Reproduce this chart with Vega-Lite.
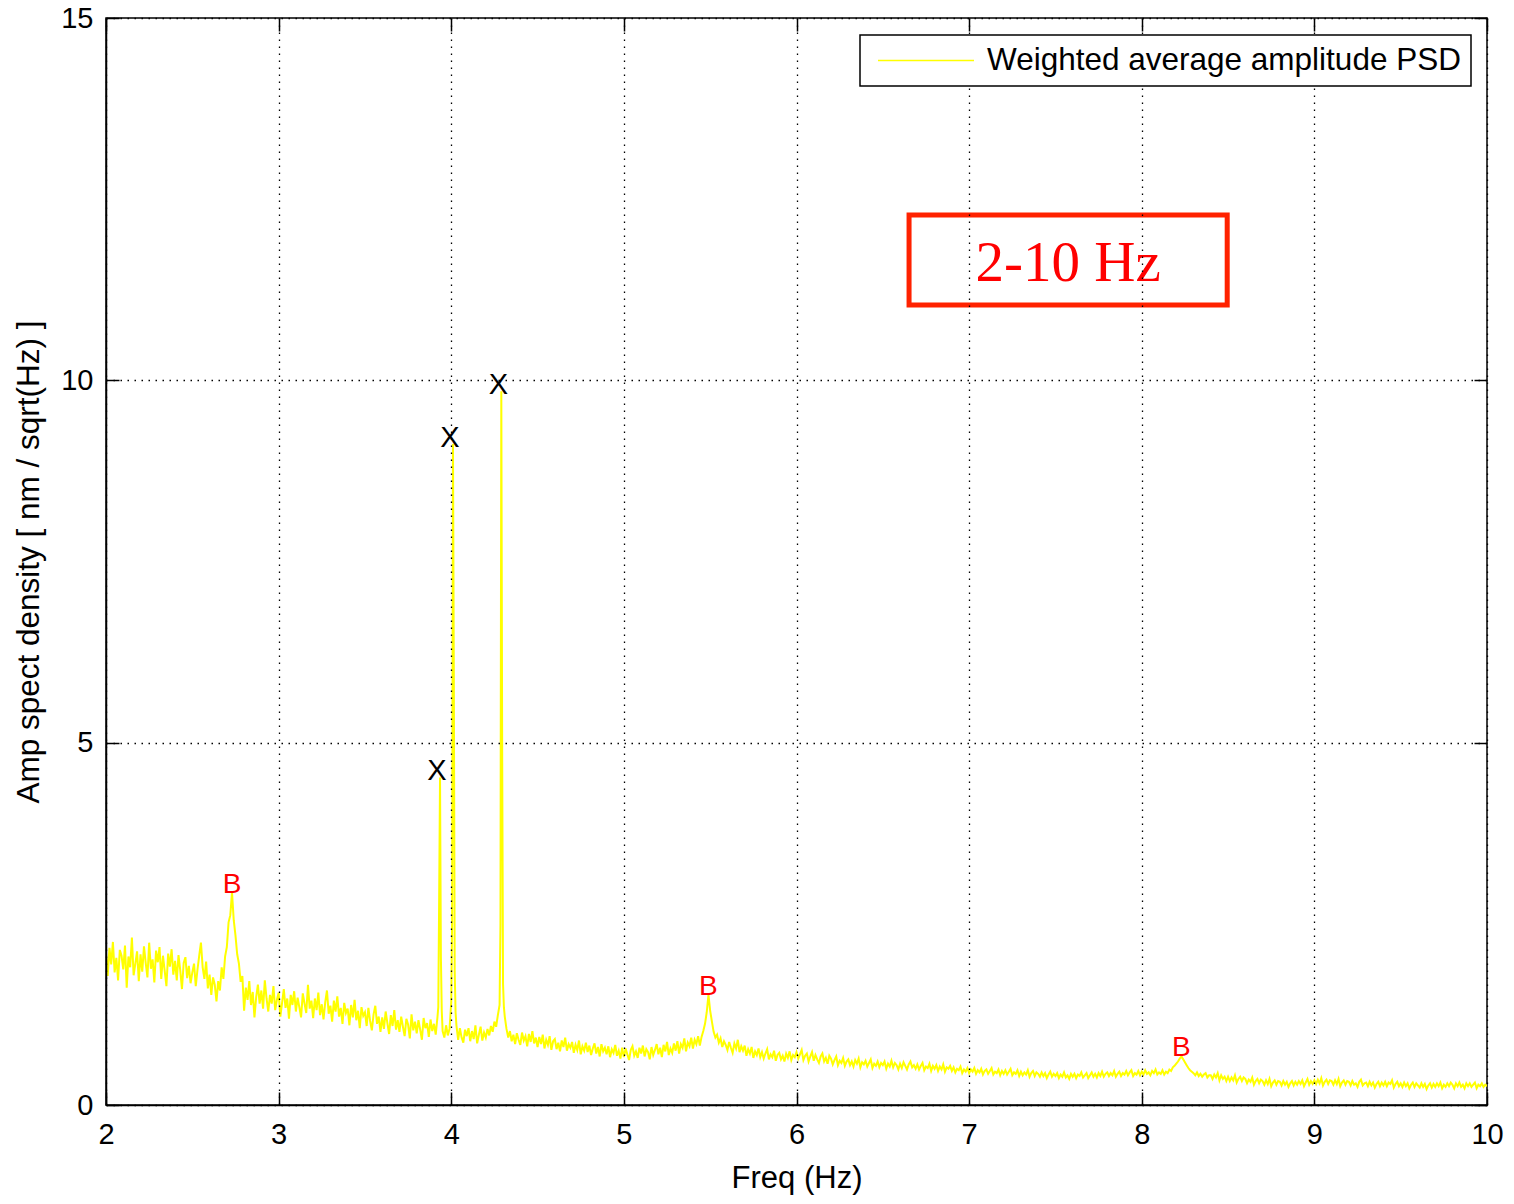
{
  "$schema": "https://vega.github.io/schema/vega-lite/v6.json",
  "width": 1381,
  "height": 1087,
  "autosize": {"type": "none"},
  "padding": {"left": 106, "top": 18, "right": 27, "bottom": 99},
  "background": "white",
  "config": {
    "font": "Liberation Sans",
    "view": {"stroke": "black", "strokeWidth": 1.5}
  },
  "datasets": {
    "psd": [
      {"f":2.00,"a":2.10},{"f":2.01,"a":1.78},{"f":2.02,"a":2.17},{"f":2.03,"a":1.94},{"f":2.04,"a":2.25},{"f":2.05,"a":1.83},{"f":2.06,"a":2.03},{"f":2.07,"a":1.72},{"f":2.08,"a":2.14},{"f":2.09,"a":2.06},
      {"f":2.10,"a":1.87},{"f":2.11,"a":2.20},{"f":2.12,"a":1.62},{"f":2.13,"a":2.05},{"f":2.14,"a":1.90},{"f":2.15,"a":2.31},{"f":2.16,"a":1.79},{"f":2.17,"a":1.95},{"f":2.18,"a":2.12},{"f":2.19,"a":1.71},
      {"f":2.20,"a":2.08},{"f":2.21,"a":1.84},{"f":2.22,"a":2.19},{"f":2.23,"a":1.96},{"f":2.24,"a":1.76},{"f":2.25,"a":2.24},{"f":2.26,"a":1.88},{"f":2.27,"a":2.01},{"f":2.28,"a":1.69},{"f":2.29,"a":2.13},
      {"f":2.30,"a":1.97},{"f":2.31,"a":2.18},{"f":2.32,"a":1.74},{"f":2.33,"a":2.06},{"f":2.34,"a":1.85},{"f":2.35,"a":1.64},{"f":2.36,"a":2.09},{"f":2.37,"a":1.91},{"f":2.38,"a":2.15},{"f":2.39,"a":1.80},
      {"f":2.40,"a":1.99},{"f":2.41,"a":1.72},{"f":2.42,"a":2.07},{"f":2.43,"a":1.86},{"f":2.44,"a":1.60},{"f":2.45,"a":1.96},{"f":2.46,"a":2.04},{"f":2.47,"a":1.75},{"f":2.48,"a":1.92},{"f":2.49,"a":1.68},
      {"f":2.50,"a":1.83},{"f":2.51,"a":1.95},{"f":2.52,"a":1.64},{"f":2.53,"a":1.87},{"f":2.54,"a":2.06},{"f":2.55,"a":2.24},{"f":2.56,"a":1.90},{"f":2.57,"a":1.74},{"f":2.58,"a":1.98},{"f":2.59,"a":1.61},
      {"f":2.60,"a":1.80},{"f":2.61,"a":1.52},{"f":2.62,"a":1.76},{"f":2.63,"a":1.66},{"f":2.64,"a":1.43},{"f":2.65,"a":1.71},{"f":2.66,"a":1.58},{"f":2.67,"a":1.90},{"f":2.68,"a":1.74},{"f":2.69,"a":2.05},
      {"f":2.70,"a":2.18},{"f":2.71,"a":2.52},{"f":2.72,"a":2.62},{"f":2.73,"a":2.93},{"f":2.74,"a":2.55},{"f":2.75,"a":2.34},{"f":2.76,"a":2.08},{"f":2.77,"a":1.95},{"f":2.78,"a":1.70},{"f":2.79,"a":1.78},
      {"f":2.80,"a":1.30},{"f":2.81,"a":1.62},{"f":2.82,"a":1.45},{"f":2.83,"a":1.71},{"f":2.84,"a":1.38},{"f":2.85,"a":1.56},{"f":2.86,"a":1.21},{"f":2.87,"a":1.49},{"f":2.88,"a":1.66},{"f":2.89,"a":1.40},
      {"f":2.90,"a":1.58},{"f":2.91,"a":1.33},{"f":2.92,"a":1.72},{"f":2.93,"a":1.47},{"f":2.94,"a":1.29},{"f":2.95,"a":1.52},{"f":2.96,"a":1.40},{"f":2.97,"a":1.64},{"f":2.98,"a":1.31},{"f":2.99,"a":1.45},
      {"f":3.00,"a":1.55},{"f":3.01,"a":1.22},{"f":3.02,"a":1.41},{"f":3.03,"a":1.60},{"f":3.04,"a":1.34},{"f":3.05,"a":1.47},{"f":3.06,"a":1.19},{"f":3.07,"a":1.52},{"f":3.08,"a":1.38},{"f":3.09,"a":1.57},
      {"f":3.10,"a":1.29},{"f":3.11,"a":1.48},{"f":3.12,"a":1.35},{"f":3.13,"a":1.21},{"f":3.14,"a":1.54},{"f":3.15,"a":1.40},{"f":3.16,"a":1.27},{"f":3.17,"a":1.66},{"f":3.18,"a":1.33},{"f":3.19,"a":1.44},
      {"f":3.20,"a":1.20},{"f":3.21,"a":1.47},{"f":3.22,"a":1.31},{"f":3.23,"a":1.55},{"f":3.24,"a":1.24},{"f":3.25,"a":1.39},{"f":3.26,"a":1.18},{"f":3.27,"a":1.42},{"f":3.28,"a":1.58},{"f":3.29,"a":1.26},
      {"f":3.30,"a":1.37},{"f":3.31,"a":1.15},{"f":3.32,"a":1.44},{"f":3.33,"a":1.29},{"f":3.34,"a":1.50},{"f":3.35,"a":1.22},{"f":3.36,"a":1.34},{"f":3.37,"a":1.12},{"f":3.38,"a":1.41},{"f":3.39,"a":1.27},
      {"f":3.40,"a":1.33},{"f":3.41,"a":1.10},{"f":3.42,"a":1.38},{"f":3.43,"a":1.21},{"f":3.44,"a":1.45},{"f":3.45,"a":1.17},{"f":3.46,"a":1.30},{"f":3.47,"a":1.06},{"f":3.48,"a":1.35},{"f":3.49,"a":1.23},
      {"f":3.50,"a":1.28},{"f":3.51,"a":1.09},{"f":3.52,"a":1.34},{"f":3.53,"a":1.16},{"f":3.54,"a":1.03},{"f":3.55,"a":1.25},{"f":3.56,"a":1.37},{"f":3.57,"a":1.12},{"f":3.58,"a":1.22},{"f":3.59,"a":1.01},
      {"f":3.60,"a":1.21},{"f":3.61,"a":1.05},{"f":3.62,"a":1.29},{"f":3.63,"a":1.13},{"f":3.64,"a":0.98},{"f":3.65,"a":1.24},{"f":3.66,"a":1.09},{"f":3.67,"a":1.31},{"f":3.68,"a":1.04},{"f":3.69,"a":1.17},
      {"f":3.70,"a":1.01},{"f":3.71,"a":1.22},{"f":3.72,"a":1.08},{"f":3.73,"a":0.95},{"f":3.74,"a":1.19},{"f":3.75,"a":1.11},{"f":3.76,"a":0.92},{"f":3.77,"a":1.25},{"f":3.78,"a":1.03},{"f":3.79,"a":1.15},
      {"f":3.80,"a":0.99},{"f":3.81,"a":1.17},{"f":3.82,"a":1.04},{"f":3.83,"a":0.90},{"f":3.84,"a":1.20},{"f":3.85,"a":1.06},{"f":3.86,"a":1.13},{"f":3.87,"a":0.94},{"f":3.88,"a":1.18},{"f":3.89,"a":1.02},
      {"f":3.90,"a":1.12},{"f":3.91,"a":0.97},{"f":3.92,"a":1.21},{"f":3.925,"a":1.35},{"f":3.93,"a":2.87},{"f":3.935,"a":4.52},{"f":3.94,"a":2.04},{"f":3.945,"a":1.30},{"f":3.95,"a":1.02},{"f":3.96,"a":0.93},
      {"f":3.97,"a":1.10},{"f":3.98,"a":0.96},{"f":3.99,"a":1.05},{"f":4.00,"a":1.42},{"f":4.005,"a":2.55},{"f":4.01,"a":9.12},{"f":4.015,"a":5.85},{"f":4.02,"a":1.85},{"f":4.025,"a":1.28},{"f":4.03,"a":1.10},
      {"f":4.04,"a":0.90},{"f":4.05,"a":1.06},{"f":4.06,"a":0.93},{"f":4.07,"a":0.86},{"f":4.08,"a":1.04},{"f":4.09,"a":0.95},
      {"f":4.10,"a":1.06},{"f":4.11,"a":0.88},{"f":4.12,"a":1.02},{"f":4.13,"a":0.91},{"f":4.14,"a":1.10},{"f":4.15,"a":0.85},{"f":4.16,"a":0.97},{"f":4.17,"a":1.08},{"f":4.18,"a":0.89},{"f":4.19,"a":1.00},
      {"f":4.20,"a":0.93},{"f":4.21,"a":1.05},{"f":4.22,"a":0.96},{"f":4.23,"a":1.09},{"f":4.24,"a":1.01},{"f":4.25,"a":1.15},{"f":4.26,"a":1.08},{"f":4.27,"a":1.24},{"f":4.28,"a":1.38},{"f":4.285,"a":2.48},
      {"f":4.29,"a":9.85},{"f":4.295,"a":4.87},{"f":4.30,"a":1.67},{"f":4.305,"a":1.35},{"f":4.31,"a":1.22},{"f":4.32,"a":1.05},{"f":4.33,"a":0.93},{"f":4.34,"a":1.02},{"f":4.35,"a":0.88},{"f":4.36,"a":0.97},
      {"f":4.37,"a":0.84},{"f":4.38,"a":0.99},{"f":4.39,"a":0.90},
      {"f":4.40,"a":0.83},{"f":4.41,"a":1.00},{"f":4.42,"a":0.89},{"f":4.43,"a":0.95},{"f":4.44,"a":0.81},{"f":4.45,"a":0.98},{"f":4.46,"a":0.87},{"f":4.47,"a":1.02},{"f":4.48,"a":0.85},{"f":4.49,"a":0.93},
      {"f":4.50,"a":0.80},{"f":4.51,"a":0.94},{"f":4.52,"a":0.84},{"f":4.53,"a":0.97},{"f":4.54,"a":0.78},{"f":4.55,"a":0.90},{"f":4.56,"a":0.83},{"f":4.57,"a":0.95},{"f":4.58,"a":0.76},{"f":4.59,"a":0.88},
      {"f":4.60,"a":0.91},{"f":4.61,"a":0.77},{"f":4.62,"a":0.86},{"f":4.63,"a":0.74},{"f":4.64,"a":0.89},{"f":4.65,"a":0.80},{"f":4.66,"a":0.93},{"f":4.67,"a":0.75},{"f":4.68,"a":0.84},{"f":4.69,"a":0.79},
      {"f":4.70,"a":0.87},{"f":4.71,"a":0.72},{"f":4.72,"a":0.83},{"f":4.73,"a":0.76},{"f":4.74,"a":0.89},{"f":4.75,"a":0.70},{"f":4.76,"a":0.81},{"f":4.77,"a":0.75},{"f":4.78,"a":0.86},{"f":4.79,"a":0.73},
      {"f":4.80,"a":0.82},{"f":4.81,"a":0.69},{"f":4.82,"a":0.78},{"f":4.83,"a":0.85},{"f":4.84,"a":0.71},{"f":4.85,"a":0.80},{"f":4.86,"a":0.67},{"f":4.87,"a":0.84},{"f":4.88,"a":0.74},{"f":4.89,"a":0.79},
      {"f":4.90,"a":0.70},{"f":4.91,"a":0.81},{"f":4.92,"a":0.66},{"f":4.93,"a":0.77},{"f":4.94,"a":0.72},{"f":4.95,"a":0.83},{"f":4.96,"a":0.68},{"f":4.97,"a":0.75},{"f":4.98,"a":0.64},{"f":4.99,"a":0.79},
      {"f":5.00,"a":0.66},{"f":5.01,"a":0.78},{"f":5.02,"a":0.70},{"f":5.03,"a":0.62},{"f":5.04,"a":0.76},{"f":5.05,"a":0.81},{"f":5.06,"a":0.68},{"f":5.07,"a":0.74},{"f":5.08,"a":0.65},{"f":5.09,"a":0.79},
      {"f":5.10,"a":0.71},{"f":5.11,"a":0.82},{"f":5.12,"a":0.67},{"f":5.13,"a":0.77},{"f":5.14,"a":0.73},{"f":5.15,"a":0.63},{"f":5.16,"a":0.80},{"f":5.17,"a":0.69},{"f":5.18,"a":0.76},{"f":5.19,"a":0.84},
      {"f":5.20,"a":0.70},{"f":5.21,"a":0.79},{"f":5.22,"a":0.66},{"f":5.23,"a":0.83},{"f":5.24,"a":0.74},{"f":5.25,"a":0.87},{"f":5.26,"a":0.69},{"f":5.27,"a":0.78},{"f":5.28,"a":0.72},{"f":5.29,"a":0.85},
      {"f":5.30,"a":0.75},{"f":5.31,"a":0.88},{"f":5.32,"a":0.71},{"f":5.33,"a":0.84},{"f":5.34,"a":0.79},{"f":5.35,"a":0.92},{"f":5.36,"a":0.74},{"f":5.37,"a":0.86},{"f":5.38,"a":0.81},{"f":5.39,"a":0.93},
      {"f":5.40,"a":0.78},{"f":5.41,"a":0.90},{"f":5.42,"a":0.84},{"f":5.43,"a":0.95},{"f":5.44,"a":0.82},{"f":5.45,"a":0.94},{"f":5.46,"a":1.02},{"f":5.47,"a":1.12},{"f":5.48,"a":1.28},{"f":5.49,"a":1.52},
      {"f":5.50,"a":1.30},{"f":5.51,"a":1.15},{"f":5.52,"a":1.01},{"f":5.53,"a":0.93},{"f":5.54,"a":0.97},{"f":5.55,"a":0.86},{"f":5.56,"a":0.92},{"f":5.57,"a":0.80},{"f":5.58,"a":0.88},{"f":5.59,"a":0.83},
      {"f":5.60,"a":0.76},{"f":5.61,"a":0.87},{"f":5.62,"a":0.79},{"f":5.63,"a":0.72},{"f":5.64,"a":0.85},{"f":5.65,"a":0.78},{"f":5.66,"a":0.90},{"f":5.67,"a":0.73},{"f":5.68,"a":0.81},{"f":5.69,"a":0.75},
      {"f":5.70,"a":0.82},{"f":5.71,"a":0.68},{"f":5.72,"a":0.77},{"f":5.73,"a":0.71},{"f":5.74,"a":0.80},{"f":5.75,"a":0.65},{"f":5.76,"a":0.74},{"f":5.77,"a":0.69},{"f":5.78,"a":0.78},{"f":5.79,"a":0.66},
      {"f":5.80,"a":0.73},{"f":5.81,"a":0.64},{"f":5.82,"a":0.71},{"f":5.83,"a":0.77},{"f":5.84,"a":0.63},{"f":5.85,"a":0.70},{"f":5.86,"a":0.66},{"f":5.87,"a":0.75},{"f":5.88,"a":0.61},{"f":5.89,"a":0.69},
      {"f":5.90,"a":0.72},{"f":5.91,"a":0.63},{"f":5.92,"a":0.68},{"f":5.93,"a":0.60},{"f":5.94,"a":0.71},{"f":5.95,"a":0.65},{"f":5.96,"a":0.74},{"f":5.97,"a":0.62},{"f":5.98,"a":0.69},{"f":5.99,"a":0.66},
      {"f":6.00,"a":0.73},{"f":6.01,"a":0.64},{"f":6.02,"a":0.70},{"f":6.03,"a":0.76},{"f":6.04,"a":0.62},{"f":6.05,"a":0.68},{"f":6.06,"a":0.71},{"f":6.07,"a":0.60},{"f":6.08,"a":0.67},{"f":6.09,"a":0.73},
      {"f":6.10,"a":0.61},{"f":6.11,"a":0.69},{"f":6.12,"a":0.63},{"f":6.13,"a":0.58},{"f":6.14,"a":0.67},{"f":6.15,"a":0.71},{"f":6.16,"a":0.60},{"f":6.17,"a":0.65},{"f":6.18,"a":0.57},{"f":6.19,"a":0.68},
      {"f":6.20,"a":0.64},{"f":6.21,"a":0.56},{"f":6.22,"a":0.62},{"f":6.23,"a":0.67},{"f":6.24,"a":0.55},{"f":6.25,"a":0.61},{"f":6.26,"a":0.58},{"f":6.27,"a":0.65},{"f":6.28,"a":0.54},{"f":6.29,"a":0.60},
      {"f":6.30,"a":0.63},{"f":6.31,"a":0.55},{"f":6.32,"a":0.60},{"f":6.33,"a":0.53},{"f":6.34,"a":0.62},{"f":6.35,"a":0.57},{"f":6.36,"a":0.64},{"f":6.37,"a":0.52},{"f":6.38,"a":0.59},{"f":6.39,"a":0.56},
      {"f":6.40,"a":0.61},{"f":6.41,"a":0.53},{"f":6.42,"a":0.58},{"f":6.43,"a":0.63},{"f":6.44,"a":0.51},{"f":6.45,"a":0.57},{"f":6.46,"a":0.54},{"f":6.47,"a":0.60},{"f":6.48,"a":0.52},{"f":6.49,"a":0.58},
      {"f":6.50,"a":0.55},{"f":6.51,"a":0.60},{"f":6.52,"a":0.50},{"f":6.53,"a":0.57},{"f":6.54,"a":0.53},{"f":6.55,"a":0.61},{"f":6.56,"a":0.52},{"f":6.57,"a":0.58},{"f":6.58,"a":0.55},{"f":6.59,"a":0.49},
      {"f":6.60,"a":0.57},{"f":6.61,"a":0.51},{"f":6.62,"a":0.59},{"f":6.63,"a":0.54},{"f":6.64,"a":0.49},{"f":6.65,"a":0.56},{"f":6.66,"a":0.60},{"f":6.67,"a":0.52},{"f":6.68,"a":0.55},{"f":6.69,"a":0.50},
      {"f":6.70,"a":0.56},{"f":6.71,"a":0.49},{"f":6.72,"a":0.54},{"f":6.73,"a":0.58},{"f":6.74,"a":0.48},{"f":6.75,"a":0.53},{"f":6.76,"a":0.51},{"f":6.77,"a":0.57},{"f":6.78,"a":0.47},{"f":6.79,"a":0.54},
      {"f":6.80,"a":0.50},{"f":6.81,"a":0.55},{"f":6.82,"a":0.47},{"f":6.83,"a":0.53},{"f":6.84,"a":0.49},{"f":6.85,"a":0.56},{"f":6.86,"a":0.46},{"f":6.87,"a":0.52},{"f":6.88,"a":0.50},{"f":6.89,"a":0.54},
      {"f":6.90,"a":0.47},{"f":6.91,"a":0.52},{"f":6.92,"a":0.45},{"f":6.93,"a":0.50},{"f":6.94,"a":0.48},{"f":6.95,"a":0.53},{"f":6.96,"a":0.44},{"f":6.97,"a":0.49},{"f":6.98,"a":0.46},{"f":6.99,"a":0.51},
      {"f":7.00,"a":0.44},{"f":7.01,"a":0.49},{"f":7.02,"a":0.46},{"f":7.03,"a":0.51},{"f":7.04,"a":0.43},{"f":7.05,"a":0.48},{"f":7.06,"a":0.45},{"f":7.07,"a":0.50},{"f":7.08,"a":0.42},{"f":7.09,"a":0.47},
      {"f":7.10,"a":0.49},{"f":7.11,"a":0.43},{"f":7.12,"a":0.47},{"f":7.13,"a":0.51},{"f":7.14,"a":0.42},{"f":7.15,"a":0.46},{"f":7.16,"a":0.44},{"f":7.17,"a":0.49},{"f":7.18,"a":0.41},{"f":7.19,"a":0.47},
      {"f":7.20,"a":0.43},{"f":7.21,"a":0.48},{"f":7.22,"a":0.42},{"f":7.23,"a":0.46},{"f":7.24,"a":0.50},{"f":7.25,"a":0.41},{"f":7.26,"a":0.45},{"f":7.27,"a":0.43},{"f":7.28,"a":0.48},{"f":7.29,"a":0.40},
      {"f":7.30,"a":0.46},{"f":7.31,"a":0.41},{"f":7.32,"a":0.45},{"f":7.33,"a":0.42},{"f":7.34,"a":0.48},{"f":7.35,"a":0.39},{"f":7.36,"a":0.44},{"f":7.37,"a":0.47},{"f":7.38,"a":0.40},{"f":7.39,"a":0.45},
      {"f":7.40,"a":0.43},{"f":7.41,"a":0.39},{"f":7.42,"a":0.45},{"f":7.43,"a":0.40},{"f":7.44,"a":0.44},{"f":7.45,"a":0.37},{"f":7.46,"a":0.42},{"f":7.47,"a":0.46},{"f":7.48,"a":0.39},{"f":7.49,"a":0.43},
      {"f":7.50,"a":0.40},{"f":7.51,"a":0.44},{"f":7.52,"a":0.37},{"f":7.53,"a":0.42},{"f":7.54,"a":0.39},{"f":7.55,"a":0.45},{"f":7.56,"a":0.38},{"f":7.57,"a":0.41},{"f":7.58,"a":0.36},{"f":7.59,"a":0.43},
      {"f":7.60,"a":0.39},{"f":7.61,"a":0.43},{"f":7.62,"a":0.37},{"f":7.63,"a":0.42},{"f":7.64,"a":0.40},{"f":7.65,"a":0.45},{"f":7.66,"a":0.38},{"f":7.67,"a":0.41},{"f":7.68,"a":0.44},{"f":7.69,"a":0.37},
      {"f":7.70,"a":0.41},{"f":7.71,"a":0.45},{"f":7.72,"a":0.39},{"f":7.73,"a":0.43},{"f":7.74,"a":0.38},{"f":7.75,"a":0.44},{"f":7.76,"a":0.40},{"f":7.77,"a":0.46},{"f":7.78,"a":0.39},{"f":7.79,"a":0.43},
      {"f":7.80,"a":0.45},{"f":7.81,"a":0.40},{"f":7.82,"a":0.44},{"f":7.83,"a":0.41},{"f":7.84,"a":0.47},{"f":7.85,"a":0.39},{"f":7.86,"a":0.43},{"f":7.87,"a":0.46},{"f":7.88,"a":0.40},{"f":7.89,"a":0.44},
      {"f":7.90,"a":0.42},{"f":7.91,"a":0.47},{"f":7.92,"a":0.41},{"f":7.93,"a":0.45},{"f":7.94,"a":0.48},{"f":7.95,"a":0.40},{"f":7.96,"a":0.44},{"f":7.97,"a":0.42},{"f":7.98,"a":0.47},{"f":7.99,"a":0.41},
      {"f":8.00,"a":0.46},{"f":8.01,"a":0.42},{"f":8.02,"a":0.48},{"f":8.03,"a":0.43},{"f":8.04,"a":0.45},{"f":8.05,"a":0.41},{"f":8.06,"a":0.47},{"f":8.07,"a":0.44},{"f":8.08,"a":0.49},{"f":8.09,"a":0.42},
      {"f":8.10,"a":0.45},{"f":8.11,"a":0.43},{"f":8.12,"a":0.48},{"f":8.13,"a":0.42},{"f":8.14,"a":0.46},{"f":8.15,"a":0.44},{"f":8.16,"a":0.49},{"f":8.17,"a":0.47},{"f":8.18,"a":0.52},{"f":8.19,"a":0.54},
      {"f":8.20,"a":0.57},{"f":8.21,"a":0.60},{"f":8.22,"a":0.64},{"f":8.23,"a":0.67},{"f":8.24,"a":0.63},{"f":8.25,"a":0.59},{"f":8.26,"a":0.55},{"f":8.27,"a":0.51},{"f":8.28,"a":0.48},{"f":8.29,"a":0.46},
      {"f":8.30,"a":0.44},{"f":8.31,"a":0.41},{"f":8.32,"a":0.45},{"f":8.33,"a":0.40},{"f":8.34,"a":0.43},{"f":8.35,"a":0.39},{"f":8.36,"a":0.42},{"f":8.37,"a":0.44},{"f":8.38,"a":0.38},{"f":8.39,"a":0.41},
      {"f":8.40,"a":0.41},{"f":8.41,"a":0.36},{"f":8.42,"a":0.42},{"f":8.43,"a":0.38},{"f":8.44,"a":0.44},{"f":8.45,"a":0.34},{"f":8.46,"a":0.41},{"f":8.47,"a":0.36},{"f":8.48,"a":0.39},{"f":8.49,"a":0.33},
      {"f":8.50,"a":0.39},{"f":8.51,"a":0.33},{"f":8.52,"a":0.38},{"f":8.53,"a":0.34},{"f":8.54,"a":0.41},{"f":8.55,"a":0.31},{"f":8.56,"a":0.36},{"f":8.57,"a":0.39},{"f":8.58,"a":0.33},{"f":8.59,"a":0.38},
      {"f":8.60,"a":0.36},{"f":8.61,"a":0.30},{"f":8.62,"a":0.35},{"f":8.63,"a":0.32},{"f":8.64,"a":0.38},{"f":8.65,"a":0.28},{"f":8.66,"a":0.33},{"f":8.67,"a":0.36},{"f":8.68,"a":0.30},{"f":8.69,"a":0.35},
      {"f":8.70,"a":0.33},{"f":8.71,"a":0.28},{"f":8.72,"a":0.34},{"f":8.73,"a":0.29},{"f":8.74,"a":0.36},{"f":8.75,"a":0.26},{"f":8.76,"a":0.31},{"f":8.77,"a":0.34},{"f":8.78,"a":0.28},{"f":8.79,"a":0.33},
      {"f":8.80,"a":0.32},{"f":8.81,"a":0.27},{"f":8.82,"a":0.33},{"f":8.83,"a":0.28},{"f":8.84,"a":0.32},{"f":8.85,"a":0.25},{"f":8.86,"a":0.30},{"f":8.87,"a":0.33},{"f":8.88,"a":0.27},{"f":8.89,"a":0.32},
      {"f":8.90,"a":0.28},{"f":8.91,"a":0.33},{"f":8.92,"a":0.29},{"f":8.93,"a":0.34},{"f":8.94,"a":0.26},{"f":8.95,"a":0.31},{"f":8.96,"a":0.36},{"f":8.97,"a":0.28},{"f":8.98,"a":0.33},{"f":8.99,"a":0.29},
      {"f":9.00,"a":0.34},{"f":9.01,"a":0.29},{"f":9.02,"a":0.35},{"f":9.03,"a":0.30},{"f":9.04,"a":0.37},{"f":9.05,"a":0.27},{"f":9.06,"a":0.32},{"f":9.07,"a":0.35},{"f":9.08,"a":0.29},{"f":9.09,"a":0.34},
      {"f":9.10,"a":0.33},{"f":9.11,"a":0.28},{"f":9.12,"a":0.34},{"f":9.13,"a":0.29},{"f":9.14,"a":0.36},{"f":9.15,"a":0.26},{"f":9.16,"a":0.31},{"f":9.17,"a":0.34},{"f":9.18,"a":0.28},{"f":9.19,"a":0.33},
      {"f":9.20,"a":0.32},{"f":9.21,"a":0.27},{"f":9.22,"a":0.33},{"f":9.23,"a":0.28},{"f":9.24,"a":0.30},{"f":9.25,"a":0.25},{"f":9.26,"a":0.32},{"f":9.27,"a":0.35},{"f":9.28,"a":0.27},{"f":9.29,"a":0.30},
      {"f":9.30,"a":0.31},{"f":9.31,"a":0.26},{"f":9.32,"a":0.32},{"f":9.33,"a":0.27},{"f":9.34,"a":0.31},{"f":9.35,"a":0.24},{"f":9.36,"a":0.29},{"f":9.37,"a":0.32},{"f":9.38,"a":0.26},{"f":9.39,"a":0.31},
      {"f":9.40,"a":0.27},{"f":9.41,"a":0.32},{"f":9.42,"a":0.26},{"f":9.43,"a":0.31},{"f":9.44,"a":0.29},{"f":9.45,"a":0.34},{"f":9.46,"a":0.24},{"f":9.47,"a":0.29},{"f":9.48,"a":0.32},{"f":9.49,"a":0.26},
      {"f":9.50,"a":0.30},{"f":9.51,"a":0.25},{"f":9.52,"a":0.31},{"f":9.53,"a":0.26},{"f":9.54,"a":0.30},{"f":9.55,"a":0.23},{"f":9.56,"a":0.28},{"f":9.57,"a":0.31},{"f":9.58,"a":0.25},{"f":9.59,"a":0.30},
      {"f":9.60,"a":0.27},{"f":9.61,"a":0.24},{"f":9.62,"a":0.30},{"f":9.63,"a":0.25},{"f":9.64,"a":0.29},{"f":9.65,"a":0.22},{"f":9.66,"a":0.27},{"f":9.67,"a":0.30},{"f":9.68,"a":0.24},{"f":9.69,"a":0.29},
      {"f":9.70,"a":0.25},{"f":9.71,"a":0.30},{"f":9.72,"a":0.26},{"f":9.73,"a":0.31},{"f":9.74,"a":0.23},{"f":9.75,"a":0.28},{"f":9.76,"a":0.25},{"f":9.77,"a":0.30},{"f":9.78,"a":0.26},{"f":9.79,"a":0.31},
      {"f":9.80,"a":0.28},{"f":9.81,"a":0.23},{"f":9.82,"a":0.30},{"f":9.83,"a":0.26},{"f":9.84,"a":0.31},{"f":9.85,"a":0.25},{"f":9.86,"a":0.28},{"f":9.87,"a":0.23},{"f":9.88,"a":0.30},{"f":9.89,"a":0.26},
      {"f":9.90,"a":0.30},{"f":9.91,"a":0.25},{"f":9.92,"a":0.28},{"f":9.93,"a":0.31},{"f":9.94,"a":0.23},{"f":9.95,"a":0.28},{"f":9.96,"a":0.26},{"f":9.97,"a":0.30},{"f":9.98,"a":0.25},{"f":9.99,"a":0.28},
      {"f":10.00,"a":0.26}
    ],
    "peaks": [
      {"f":3.935,"a":4.52,"k":"X"},
      {"f":4.01,"a":9.12,"k":"X"},
      {"f":4.29,"a":9.85,"k":"X"},
      {"f":2.73,"a":2.93,"k":"B"},
      {"f":5.49,"a":1.52,"k":"B"},
      {"f":8.23,"a":0.67,"k":"B"}
    ],
    "band": [
      {"f1":6.652,"f2":8.495,"a1":11.04,"a2":12.28,"fc":7.574,"ac":11.6,"label":"2-10 Hz"}
    ]
  },
  "resolve": {"axis": {"x": "independent", "y": "independent"}},
  "layer": [
    {
      "data": {"name": "psd"},
      "mark": {"type": "line", "strokeWidth": 2, "clip": true},
      "encoding": {
        "x": {
          "field": "f", "type": "quantitative",
          "scale": {"domain": [2, 10], "nice": false, "zero": false},
          "axis": {
            "title": "Freq (Hz)", "values": [2, 3, 4, 5, 6, 7, 8, 9, 10],
            "grid": true, "gridColor": "black", "gridDash": [1.5, 5.5], "gridWidth": 1.3,
            "tickSize": -13, "tickColor": "black", "tickWidth": 1.5,
            "domainColor": "black", "domainWidth": 1.5,
            "labelFontSize": 29, "labelColor": "black", "labelPadding": 28, "labelFlush": false,
            "titleFontSize": 31, "titleFontWeight": "normal", "titleColor": "black", "titlePadding": 14,
            "zindex": 1
          }
        },
        "y": {
          "field": "a", "type": "quantitative",
          "scale": {"domain": [0, 15], "nice": false},
          "axis": {
            "title": "Amp spect density [ nm / sqrt(Hz) ]", "values": [0, 5, 10, 15],
            "grid": true, "gridColor": "black", "gridDash": [1.5, 5.5], "gridWidth": 1.3,
            "tickSize": -13, "tickColor": "black", "tickWidth": 1.5,
            "domainColor": "black", "domainWidth": 1.5,
            "labelFontSize": 29, "labelColor": "black", "labelPadding": 26, "labelFlush": false,
            "titleFontSize": 31.5, "titleFontWeight": "normal", "titleColor": "black", "titlePadding": 15,
            "zindex": 1
          }
        },
        "color": {
          "datum": "Weighted average amplitude PSD", "type": "nominal",
          "scale": {"range": ["#ffff00"]},
          "legend": {
            "title": null, "orient": "none", "legendX": 754, "legendY": 17,
            "symbolType": "stroke", "symbolSize": 9216, "symbolStrokeWidth": 1.6, "symbolOffset": 7,
            "clipHeight": 31,
            "labelFontSize": 31.5, "labelColor": "black", "labelOffset": 12, "labelLimit": 800,
            "padding": 10, "strokeColor": "black", "fillColor": "white",
            "cornerRadius": 0, "zindex": 2,
            "encode": {"legend": {"update": {"strokeWidth": {"value": 1.5}}}}
          }
        }
      }
    },
    {
      "data": {"name": "band"},
      "mark": {"type": "rect", "fill": null, "fillOpacity": 0, "stroke": "#ff2200", "strokeWidth": 5},
      "encoding": {
        "x": {
          "field": "f1", "type": "quantitative",
          "axis": {
            "orient": "top", "values": [2, 3, 4, 5, 6, 7, 8, 9, 10], "labels": false, "title": null,
            "grid": false, "domain": false, "tickSize": -13, "tickColor": "black", "tickWidth": 1.5, "zindex": 1
          }
        },
        "x2": {"field": "f2"},
        "y": {
          "field": "a1", "type": "quantitative",
          "axis": {
            "orient": "right", "values": [0, 5, 10, 15], "labels": false, "title": null,
            "grid": false, "domain": false, "tickSize": -13, "tickColor": "black", "tickWidth": 1.5, "zindex": 1
          }
        },
        "y2": {"field": "a2"}
      }
    },
    {
      "data": {"name": "band"},
      "mark": {"type": "text", "font": "Liberation Serif", "fontSize": 57, "color": "#ff0000", "align": "center", "baseline": "middle"},
      "encoding": {
        "x": {"field": "fc", "type": "quantitative", "axis": null},
        "y": {"field": "ac", "type": "quantitative", "axis": null},
        "text": {"field": "label"}
      }
    },
    {
      "data": {"name": "peaks"},
      "transform": [{"filter": "datum.k === 'X'"}],
      "mark": {"type": "text", "fontSize": 29, "color": "black", "align": "center", "baseline": "alphabetic", "dx": -3, "dy": 3},
      "encoding": {
        "x": {"field": "f", "type": "quantitative", "axis": null},
        "y": {"field": "a", "type": "quantitative", "axis": null},
        "text": {"field": "k"}
      }
    },
    {
      "data": {"name": "peaks"},
      "transform": [{"filter": "datum.k === 'B'"}],
      "mark": {"type": "text", "fontSize": 28, "color": "#ff0000", "align": "center", "baseline": "alphabetic", "dx": 0, "dy": 0},
      "encoding": {
        "x": {"field": "f", "type": "quantitative", "axis": null},
        "y": {"field": "a", "type": "quantitative", "axis": null},
        "text": {"field": "k"}
      }
    }
  ]
}
